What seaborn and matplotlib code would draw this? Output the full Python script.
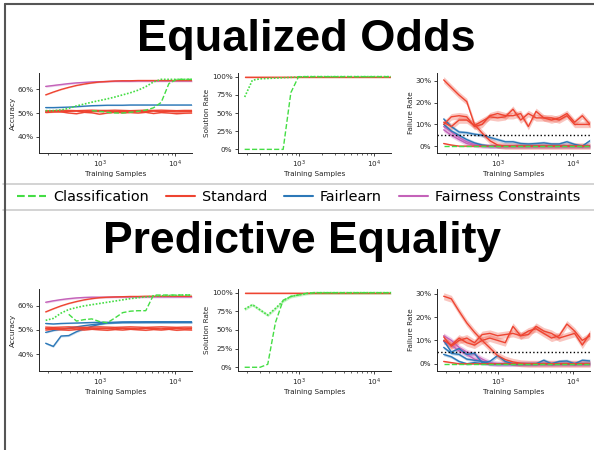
import numpy as np
import matplotlib
matplotlib.use("Agg")
import matplotlib.pyplot as plt
import seaborn as sns
from matplotlib.lines import Line2D
from matplotlib.ticker import PercentFormatter

sns.set_style("ticks")
plt.rcParams['font.family'] = ['DejaVu Sans']

nan = np.nan
# training sample sizes (x axis, log scale)
samples = [189, 239, 303, 384, 486, 616, 780, 988, 1252, 1586,
           2009, 2545, 3224, 4085, 5174, 6555, 8304, 10517, 13325, 16877]

# ---- Equalized Odds: accuracy
eo_acc_fc = [0.613, 0.617, 0.621, 0.625, 0.628, 0.630, 0.632, 0.633, 0.634, 0.635,
             0.635, 0.635, 0.636, 0.636, 0.636, 0.636, 0.636, 0.636, 0.636, 0.636]
eo_acc_std_a = [0.577, 0.589, 0.600, 0.609, 0.617, 0.623, 0.628, 0.632, 0.634, 0.636,
                0.637, 0.637, 0.638, 0.638, 0.638, 0.638, 0.638, 0.638, 0.638, 0.638]
eo_acc_std_b = [0.509, 0.510, 0.511, 0.511, 0.510, 0.511, 0.512, 0.511, 0.511, 0.512,
                0.511, 0.510, 0.511, 0.512, 0.511, 0.512, 0.511, 0.510, 0.511, 0.511]
eo_acc_std_c = [0.505, 0.507, 0.505, 0.500, 0.497, 0.503, 0.501, 0.495, 0.500, 0.503,
                0.501, 0.502, 0.500, 0.503, 0.498, 0.502, 0.500, 0.497, 0.499, 0.500]
eo_acc_std_d = [0.502, 0.504, 0.506, 0.507, 0.508, 0.505, 0.507, 0.506, 0.508, 0.506,
                0.507, 0.505, 0.507, 0.506, 0.508, 0.506, 0.507, 0.505, 0.506, 0.506]
eo_acc_fl = [0.523, 0.523, 0.524, 0.525, 0.527, 0.529, 0.531, 0.532, 0.533, 0.533,
             0.533, 0.534, 0.534, 0.534, 0.534, 0.534, 0.534, 0.534, 0.534, 0.534]
eo_acc_clf_dot = [0.510, 0.510, 0.513, 0.520, 0.530, 0.538, 0.546, 0.553, 0.560, 0.568,
                  0.577, 0.586, 0.597, 0.612, 0.632, 0.643, 0.643, 0.643, 0.643, 0.643]
eo_acc_clf_dash = [nan, nan, nan, nan, nan, nan, 0.510, 0.507, 0.503, 0.500,
                   0.500, 0.503, 0.507, 0.512, 0.522, 0.545, 0.625, 0.643, 0.643, 0.643]

# ---- Equalized Odds: solution rate
eo_sol_std = [1.0, 1.0, 1.0, 1.0, 1.0, 1.0, 1.0, 1.0, 1.0, 1.0,
              1.0, 1.0, 1.0, 1.0, 1.0, 1.0, 1.0, 1.0, 1.0, 1.0]
eo_sol_clf_dot = [0.72, 0.95, 0.97, 0.975, 0.98, 0.985, 0.99, 0.995, 1.0, 1.0,
                  1.0, 1.0, 1.0, 1.0, 1.0, 1.0, 1.0, 1.0, 1.0, 1.0]
eo_sol_clf_dash = [0.0, 0.0, 0.0, 0.0, 0.0, 0.0, 0.78, 1.0, 1.0, 1.0,
                   1.0, 1.0, 1.0, 1.0, 1.0, 1.0, 1.0, 1.0, 1.0, 1.0]

# ---- Equalized Odds: failure rate
eo_fail_std_a = [0.305, 0.27, 0.235, 0.205, 0.10, 0.06, 0.025, 0.005, 0.0, 0.0,
                 0.0, 0.0, 0.0, 0.0, 0.0, 0.0, 0.0, 0.0, 0.0, 0.0]
eo_fail_std_b = [0.10, 0.135, 0.14, 0.135, 0.09, 0.10, 0.14, 0.15, 0.14, 0.14,
                 0.15, 0.09, 0.16, 0.13, 0.12, 0.13, 0.15, 0.11, 0.14, 0.10]
eo_fail_std_c = [0.11, 0.09, 0.12, 0.12, 0.095, 0.115, 0.135, 0.13, 0.135, 0.17,
                 0.12, 0.15, 0.13, 0.13, 0.13, 0.12, 0.14, 0.10, 0.10, 0.10]
eo_fail_std_d = [0.012, 0.005, 0.0, 0.0, 0.0, 0.0, 0.0, 0.0, 0.0, 0.0,
                 0.0, 0.0, 0.0, 0.0, 0.0, 0.0, 0.0, 0.0, 0.0, 0.0]
eo_fail_fl_a = [0.125, 0.09, 0.065, 0.062, 0.055, 0.05, 0.04, 0.03, 0.02, 0.02,
                0.012, 0.01, 0.012, 0.015, 0.01, 0.01, 0.02, 0.008, 0.0, 0.025]
eo_fail_fl_b = [0.10, 0.07, 0.05, 0.03, 0.015, 0.005, 0.0, 0.0, 0.0, 0.0,
                0.0, 0.0, 0.0, 0.0, 0.0, 0.0, 0.0, 0.0, 0.0, 0.0]
eo_fail_fc_a = [0.09, 0.065, 0.04, 0.02, 0.008, 0.003, 0.0, 0.0, 0.0, 0.0,
                0.0, 0.0, 0.0, 0.0, 0.0, 0.0, 0.0, 0.0, 0.0, 0.0]
eo_fail_fc_b = [0.075, 0.05, 0.03, 0.012, 0.004, 0.0, 0.0, 0.0, 0.0, 0.0,
                0.0, 0.0, 0.0, 0.0, 0.0, 0.0, 0.0, 0.0, 0.0, 0.0]
eo_fail_clf = [0.0, 0.0, 0.0, 0.0, 0.0, 0.0, 0.0, 0.0, 0.0, 0.0,
               0.0, 0.0, 0.0, 0.0, 0.0, 0.0, 0.0, 0.0, 0.0, 0.0]

# ---- Predictive Equality: accuracy
pe_acc_fc = [0.615, 0.621, 0.626, 0.630, 0.633, 0.635, 0.636, 0.636, 0.636, 0.637,
             0.637, 0.637, 0.637, 0.637, 0.637, 0.637, 0.637, 0.637, 0.637, 0.637]
pe_acc_std_a = [0.575, 0.588, 0.600, 0.610, 0.618, 0.625, 0.630, 0.634, 0.636, 0.637,
                0.638, 0.639, 0.639, 0.640, 0.640, 0.640, 0.640, 0.640, 0.640, 0.640]
pe_acc_std_b = [0.512, 0.511, 0.512, 0.513, 0.512, 0.511, 0.512, 0.513, 0.512, 0.511,
                0.512, 0.513, 0.512, 0.511, 0.512, 0.513, 0.512, 0.511, 0.512, 0.512]
pe_acc_std_c = [0.506, 0.507, 0.505, 0.506, 0.508, 0.506, 0.505, 0.507, 0.506, 0.505,
                0.507, 0.506, 0.505, 0.507, 0.506, 0.505, 0.507, 0.506, 0.505, 0.506]
pe_acc_std_d = [0.500, 0.503, 0.501, 0.499, 0.502, 0.500, 0.503, 0.501, 0.499, 0.502,
                0.500, 0.503, 0.501, 0.499, 0.502, 0.500, 0.503, 0.499, 0.501, 0.500]
pe_acc_fl_a = [0.445, 0.432, 0.475, 0.477, 0.493, 0.505, 0.515, 0.524, 0.529, 0.531,
               0.532, 0.533, 0.533, 0.534, 0.534, 0.534, 0.534, 0.534, 0.534, 0.534]
pe_acc_fl_b = [0.490, 0.498, 0.503, 0.508, 0.513, 0.518, 0.522, 0.526, 0.529, 0.530,
               0.531, 0.531, 0.531, 0.531, 0.531, 0.531, 0.531, 0.531, 0.531, 0.531]
pe_acc_fl_c = [0.527, 0.525, 0.527, 0.528, 0.529, 0.530, 0.531, 0.532, 0.532, 0.532,
               0.533, 0.533, 0.533, 0.533, 0.533, 0.533, 0.533, 0.533, 0.533, 0.533]
pe_acc_clf_dot = [0.540, 0.548, 0.570, 0.585, 0.593, 0.600, 0.605, 0.610, 0.615, 0.620,
                  0.625, 0.630, 0.634, 0.637, 0.640, 0.642, 0.643, 0.644, 0.645, 0.645]
pe_acc_clf_dash = [nan, nan, nan, 0.565, 0.537, 0.543, 0.546, 0.535, 0.530, 0.550,
                   0.572, 0.578, 0.580, 0.580, 0.645, 0.645, 0.645, 0.645, 0.645, 0.645]

# ---- Predictive Equality: solution rate
pe_sol_std = [1.0, 1.0, 1.0, 1.0, 1.0, 1.0, 1.0, 1.0, 1.0, 1.0,
              1.0, 1.0, 1.0, 1.0, 1.0, 1.0, 1.0, 1.0, 1.0, 1.0]
pe_sol_clf_dot = [0.78, 0.84, 0.77, 0.70, 0.79, 0.89, 0.95, 0.97, 0.99, 1.0,
                  1.0, 1.0, 1.0, 1.0, 1.0, 1.0, 1.0, 1.0, 1.0, 1.0]
pe_sol_clf_dash = [0.0, 0.0, 0.0, 0.04, 0.60, 0.90, 0.95, 0.97, 0.99, 1.0,
                   1.0, 1.0, 1.0, 1.0, 1.0, 1.0, 1.0, 1.0, 1.0, 1.0]

# ---- Predictive Equality: failure rate
pe_fail_std_a = [0.289, 0.278, 0.225, 0.175, 0.135, 0.10, 0.068, 0.035, 0.018, 0.008,
                 0.002, 0.0, 0.0, 0.0, 0.0, 0.0, 0.0, 0.0, 0.0, 0.0]
pe_fail_std_b = [0.115, 0.075, 0.10, 0.11, 0.09, 0.125, 0.13, 0.12, 0.125, 0.13,
                 0.12, 0.125, 0.16, 0.14, 0.13, 0.11, 0.12, 0.13, 0.08, 0.13]
pe_fail_std_c = [0.10, 0.08, 0.11, 0.09, 0.08, 0.10, 0.11, 0.10, 0.09, 0.16,
                 0.12, 0.14, 0.15, 0.13, 0.11, 0.12, 0.17, 0.14, 0.10, 0.12]
pe_fail_std_d = [0.01, 0.005, 0.0, 0.0, 0.0, 0.0, 0.0, 0.0, 0.0, 0.0,
                 0.0, 0.0, 0.0, 0.0, 0.0, 0.0, 0.0, 0.0, 0.0, 0.0]
pe_fail_fl_a = [0.10, 0.05, 0.065, 0.04, 0.045, 0.005, 0.01, 0.035, 0.01, 0.0,
                0.0, 0.0, 0.0, 0.015, 0.0, 0.01, 0.012, 0.0, 0.015, 0.012]
pe_fail_fl_b = [0.04, 0.03, 0.01, 0.0, 0.005, 0.0, 0.0, 0.0, 0.0, 0.0,
                0.0, 0.0, 0.0, 0.0, 0.0, 0.0, 0.0, 0.0, 0.0, 0.0]
pe_fail_fl_c = [0.07, 0.045, 0.04, 0.02, 0.015, 0.01, 0.0, 0.0, 0.0, 0.0,
                0.0, 0.0, 0.0, 0.0, 0.0, 0.0, 0.0, 0.0, 0.0, 0.0]
pe_fail_fc_a = [0.12, 0.10, 0.07, 0.05, 0.04, 0.02, 0.005, 0.0, 0.0, 0.0,
                0.0, 0.0, 0.0, 0.0, 0.0, 0.0, 0.0, 0.0, 0.0, 0.0]
pe_fail_fc_b = [0.095, 0.08, 0.055, 0.04, 0.02, 0.01, 0.0, 0.0, 0.0, 0.0,
                0.0, 0.0, 0.0, 0.0, 0.0, 0.0, 0.0, 0.0, 0.0, 0.0]
pe_fail_clf = [0.0, 0.0, 0.0, 0.0, 0.0, 0.0, 0.0, 0.0, 0.0, 0.0,
               0.0, 0.0, 0.0, 0.0, 0.0, 0.0, 0.0, 0.0, 0.0, 0.0]

fail_target = 0.05

methods = ["Classification", "Standard", "Fairlearn", "Fairness Constraints"]
colors = {"Classification": "#44dd44", "Standard": "#ee4431",
          "Fairlearn": "#2c78b8", "Fairness Constraints": "#c462b9"}

# (method, values, linestyle, band half width)
eo_panels = [
    [("Fairlearn", eo_acc_fl, "-", 0.002),
     ("Standard", eo_acc_std_b, "-", 0.002), ("Standard", eo_acc_std_c, "-", 0.002),
     ("Standard", eo_acc_std_d, "-", 0.002),
     ("Fairness Constraints", eo_acc_fc, "-", 0.004),
     ("Standard", eo_acc_std_a, "-", 0.002),
     ("Classification", eo_acc_clf_dot, ":", 0.0),
     ("Classification", eo_acc_clf_dash, "--", 0.0)],
    [("Standard", eo_sol_std, "-", 0.006),
     ("Classification", eo_sol_clf_dot, ":", 0.0),
     ("Classification", eo_sol_clf_dash, "--", 0.0)],
    [("Fairness Constraints", eo_fail_fc_a, "-", 0.01),
     ("Fairness Constraints", eo_fail_fc_b, "-", 0.01),
     ("Fairlearn", eo_fail_fl_b, "-", 0.008),
     ("Fairlearn", eo_fail_fl_a, "-", 0.008),
     ("Standard", eo_fail_std_a, "-", 0.015),
     ("Standard", eo_fail_std_b, "-", 0.015),
     ("Standard", eo_fail_std_c, "-", 0.015),
     ("Standard", eo_fail_std_d, "-", 0.003),
     ("Classification", eo_fail_clf, "--", 0.0)],
]
pe_panels = [
    [("Fairlearn", pe_acc_fl_a, "-", 0.004), ("Fairlearn", pe_acc_fl_b, "-", 0.003),
     ("Fairlearn", pe_acc_fl_c, "-", 0.002),
     ("Standard", pe_acc_std_b, "-", 0.002), ("Standard", pe_acc_std_c, "-", 0.002),
     ("Standard", pe_acc_std_d, "-", 0.002),
     ("Fairness Constraints", pe_acc_fc, "-", 0.004),
     ("Standard", pe_acc_std_a, "-", 0.002),
     ("Classification", pe_acc_clf_dot, ":", 0.0),
     ("Classification", pe_acc_clf_dash, "--", 0.0)],
    [("Standard", pe_sol_std, "-", 0.006),
     ("Classification", pe_sol_clf_dot, ":", 0.02),
     ("Classification", pe_sol_clf_dash, "--", 0.0)],
    [("Fairness Constraints", pe_fail_fc_a, "-", 0.012),
     ("Fairness Constraints", pe_fail_fc_b, "-", 0.01),
     ("Fairlearn", pe_fail_fl_b, "-", 0.006),
     ("Fairlearn", pe_fail_fl_c, "-", 0.006),
     ("Fairlearn", pe_fail_fl_a, "-", 0.008),
     ("Standard", pe_fail_std_a, "-", 0.015),
     ("Standard", pe_fail_std_b, "-", 0.015),
     ("Standard", pe_fail_std_c, "-", 0.015),
     ("Standard", pe_fail_std_d, "-", 0.003),
     ("Classification", pe_fail_clf, "--", 0.0)],
]

fig = plt.figure(figsize=(5.94, 4.5), dpi=100)

ylabels = ["Accuracy", "Solution Rate", "Failure Rate"]
lefts = [39, 238, 437]
rows = [(153, 80), (371, 82)]  # bottom pixel, height pixel

x = np.array(samples, dtype=float)
for (bottom, h), panels in zip(rows, [eo_panels, pe_panels]):
    for j, lines in enumerate(panels):
        ax = fig.add_axes([lefts[j] / 594, 1 - bottom / 450, 153 / 594, h / 450])
        for method, vals, ls, band in lines:
            v = np.array(vals, dtype=float)
            c = colors[method]
            if band > 0:
                ax.fill_between(x, v - band, v + band, color=c, alpha=0.3, lw=0)
            if ls == ":":
                sns.lineplot(x=x, y=v, ax=ax, color=c, lw=1.2, dashes=False).lines[-1].set_dashes((1, 1))
            else:
                sns.lineplot(x=x, y=v, ax=ax, color=c, linestyle=ls, lw=1.0)
        if j == 2:
            ax.axhline(fail_target, color="black", ls=":", lw=1.0)
        ax.set_xscale("log")
        ax.set_xlim(154, 16877)
        if j == 0:
            ax.set_ylim(0.33, 0.67)
            ax.set_yticks([0.4, 0.5, 0.6])
        elif j == 1:
            ax.set_ylim(-0.05, 1.05)
            ax.set_yticks([0, 0.25, 0.5, 0.75, 1.0])
        else:
            ax.set_yticks([0, 0.1, 0.2, 0.3])
        ax.yaxis.set_major_formatter(PercentFormatter(1.0, decimals=0))
        ax.set_xlabel("Training Samples", fontsize=5.2, labelpad=0.5)
        ax.set_ylabel(ylabels[j], fontsize=5.2, labelpad=1)
        ax.tick_params(axis="both", which="major", labelsize=5.2, length=2.5, width=0.6, pad=1.5)
        ax.tick_params(axis="x", which="minor", length=1.5, width=0.5)
        for s in ["left", "bottom"]:
            ax.spines[s].set_linewidth(0.7)
        sns.despine(ax=ax)

# titles
fig.text(306 / 594, 1 - 40 / 450, "Equalized Odds", ha="center", va="center", color="black",
         fontsize=32.5, fontweight="bold", family="Liberation Sans")
fig.text(302 / 594, 1 - 242 / 450, "Predictive Equality", ha="center", va="center", color="black",
         fontsize=32, fontweight="bold", family="Liberation Sans")

# legend band
handles = [Line2D([], [], color=colors[m], lw=1.5, ls="--" if m == "Classification" else "-")
           for m in methods]
leg = fig.legend(handles, methods, loc="center", bbox_to_anchor=(0.503, 1 - 197 / 450),
                 ncol=4, frameon=False, fontsize=10.4, handlelength=2.0, handletextpad=0.5,
                 columnspacing=1.15)
for t in leg.get_texts():
    t.set_color("black")
for yy in [184, 210]:
    fig.add_artist(Line2D([3 / 594, 1], [1 - yy / 450, 1 - yy / 450], color="#cccccc", lw=1.2))

# slide border
fig.add_artist(Line2D([5 / 594, 1], [1 - 4 / 450, 1 - 4 / 450], color="#555555", lw=1.5))
fig.add_artist(Line2D([5 / 594, 5 / 594], [1 - 4 / 450, 0], color="#555555", lw=1.5))

fig.savefig("out.png", dpi=100)
